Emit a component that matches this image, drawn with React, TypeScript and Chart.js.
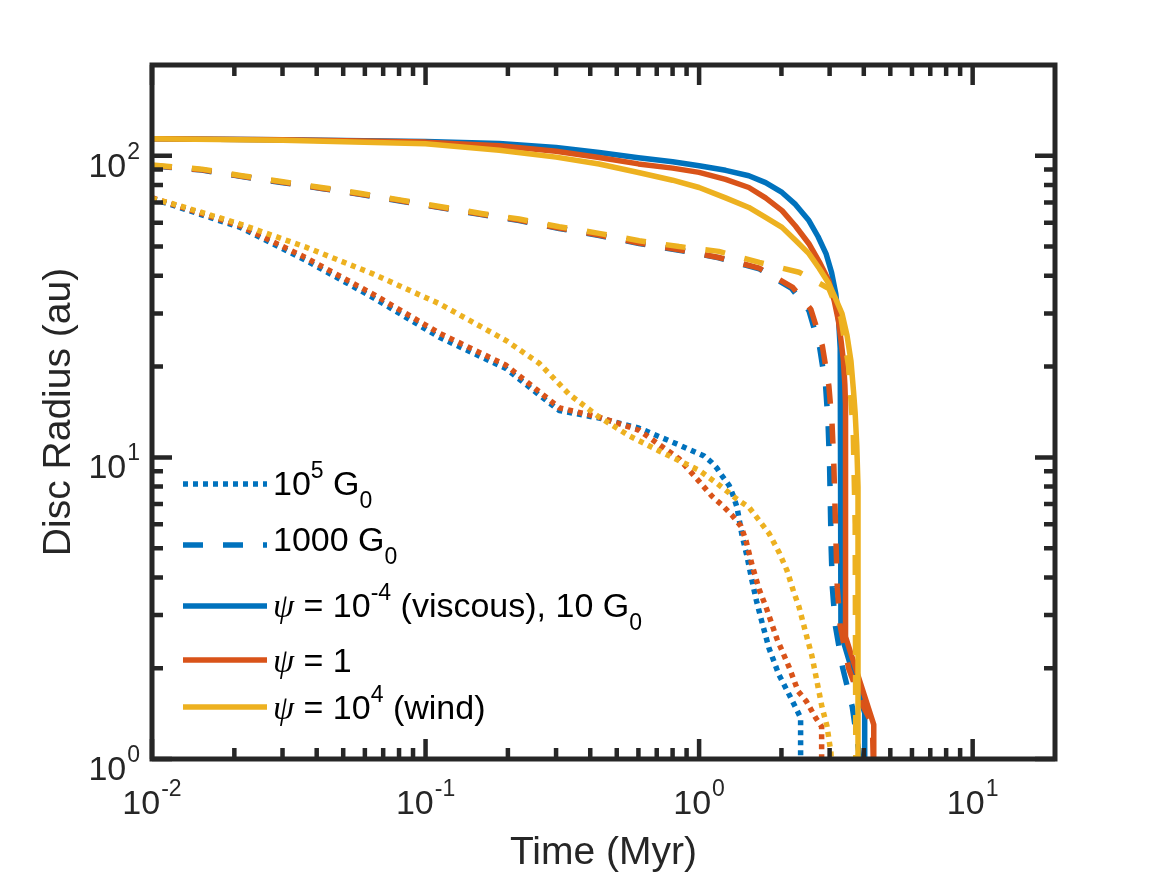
import { useEffect, useRef } from 'react';
import { Chart, registerables } from 'chart.js';

Chart.register(...registerables);

// Values: time in Myr, disc radius in au.
// Colour = psi (blue 1e-4 viscous, orange 1, yellow 1e4 wind), style = FUV field.

// solid: 10 G0
const viscous10T = [0.01, 0.03, 0.1, 0.186, 0.3, 0.431, 0.6, 0.8, 1.0, 1.25, 1.52, 1.75, 2.01, 2.25, 2.52, 2.72, 2.91, 3.05, 3.16, 3.24, 3.28, 3.3, 3.3, 4.03, 4.03];
const viscous10R = [114, 113, 111.5, 109.8, 106.5, 102.5, 98.5, 95.5, 92.7, 89.5, 85.9, 81.5, 75.6, 69.0, 61.0, 54.0, 47.4, 41.0, 34.9, 28.0, 23.0, 20.9, 2.61, 1.42, 1.0];
const mid10T = [0.01, 0.03, 0.1, 0.186, 0.3, 0.431, 0.6, 0.8, 1.0, 1.25, 1.52, 1.75, 2.01, 2.25, 2.52, 2.75, 2.98, 3.12, 3.23, 3.31, 3.37, 3.41, 3.43, 3.43, 4.35, 4.35];
const mid10R = [114, 113, 111, 107.9, 103.5, 98.7, 94.0, 91.0, 88.1, 83.5, 78.5, 72.5, 65.8, 58.5, 51.1, 44.5, 38.5, 33.0, 28.4, 24.0, 20.9, 17.5, 15.0, 2.54, 1.3, 1.0];
const wind10T = [0.01, 0.03, 0.1, 0.186, 0.3, 0.431, 0.6, 0.8, 1.0, 1.25, 1.52, 1.75, 2.01, 2.25, 2.52, 2.75, 2.98, 3.16, 3.33, 3.47, 3.59, 3.67, 3.72, 3.77, 3.81, 3.81];
const wind10R = [114, 112.5, 109.6, 104.4, 99.0, 93.9, 88.0, 83.0, 78.5, 72.5, 67.4, 62.5, 57.9, 52.5, 47.4, 42.3, 37.7, 33.5, 30.0, 25.5, 20.9, 16.5, 14.0, 11.0, 8.0, 1.0];

// dashed: 1000 G0
const viscous1000T = [0.01, 0.0152, 0.0213, 0.0297, 0.0416, 0.0582, 0.0815, 0.114, 0.16, 0.22, 0.308, 0.431, 0.604, 0.845, 1.18, 1.66, 2.18, 2.52, 2.76, 2.9, 2.96, 3.0, 3.02, 3.04, 3.07, 3.15, 3.35, 3.63, 3.87];
const viscous1000R = [92.6, 89.7, 85.3, 81.6, 77.9, 74.4, 70.7, 67.2, 63.8, 61.0, 57.4, 54.4, 51.2, 48.6, 45.9, 42.2, 36.3, 30.7, 23.1, 17.3, 13.1, 9.3, 6.8, 5.0, 3.7, 2.76, 2.0, 1.49, 1.0];
const mid1000T = [0.01, 0.0152, 0.0213, 0.0297, 0.0416, 0.0582, 0.0815, 0.114, 0.16, 0.22, 0.308, 0.431, 0.604, 0.845, 1.18, 1.66, 2.2, 2.56, 2.82, 2.98, 3.06, 3.11, 3.14, 3.17, 3.2, 3.28, 3.52, 3.9, 4.3, 4.33];
const mid1000R = [92.8, 89.9, 85.5, 81.8, 78.1, 74.6, 70.9, 67.4, 64.0, 61.2, 57.6, 54.6, 51.4, 48.8, 46.0, 42.4, 36.6, 31.0, 23.5, 17.3, 13.1, 9.3, 6.8, 5.0, 3.7, 2.76, 2.0, 1.55, 1.3, 1.0];
const wind1000T = [0.01, 0.0152, 0.0213, 0.0297, 0.0416, 0.0582, 0.0815, 0.114, 0.16, 0.22, 0.308, 0.431, 0.604, 0.845, 1.18, 1.66, 2.32, 2.98, 3.3, 3.52, 3.66, 3.72, 3.74];
const wind1000R = [93.2, 90.3, 85.9, 82.2, 78.5, 75.0, 71.3, 67.8, 64.4, 61.7, 58.2, 55.3, 52.3, 50.0, 48.2, 44.3, 41.1, 36.3, 29.0, 20.0, 12.0, 6.0, 1.0];

// dotted: 1e5 G0
const viscous1e5T = [0.01, 0.021, 0.0367, 0.0642, 0.1125, 0.197, 0.2606, 0.3083, 0.4315, 0.6034, 0.845, 1.043, 1.115, 1.163, 1.203, 1.287, 1.33, 1.376, 1.435, 1.496, 1.561, 1.62, 1.684, 1.801, 1.959, 2.095, 2.254, 2.35, 2.35];
const viscous1e5R = [72.2, 57.9, 44.9, 33.9, 25.0, 19.7, 16.1, 14.3, 13.5, 12.5, 11.0, 10.1, 9.6, 9.2, 8.78, 8.08, 7.5, 6.83, 5.52, 4.71, 3.9, 3.35, 2.92, 2.33, 1.9, 1.69, 1.48, 1.37, 1.0];
const mid1e5T = [0.01, 0.021, 0.0367, 0.0642, 0.1125, 0.197, 0.2606, 0.3083, 0.4315, 0.6034, 0.845, 1.0, 1.115, 1.223, 1.319, 1.423, 1.484, 1.52, 1.561, 1.61, 1.656, 1.756, 1.926, 2.131, 2.3, 2.47, 2.667, 2.805, 2.805];
const mid1e5R = [72.6, 58.6, 45.8, 34.8, 25.8, 20.2, 16.5, 14.6, 13.6, 12.3, 9.9, 8.33, 7.43, 6.9, 6.43, 5.91, 5.3, 4.85, 4.4, 4.0, 3.66, 3.19, 2.5, 2.02, 1.68, 1.55, 1.37, 1.28, 1.0];
const wind1e5T = [0.01, 0.012, 0.021, 0.0367, 0.0642, 0.1125, 0.197, 0.2606, 0.3348, 0.4315, 0.555, 0.7145, 1.0, 1.163, 1.365, 1.522, 1.656, 1.801, 1.959, 2.095, 2.222, 2.317, 2.457, 2.584, 2.696, 2.812, 2.932, 3.033, 3.04];
const wind1e5R = [72.2, 69.2, 59.4, 49.7, 40.6, 32.3, 24.4, 20.5, 16.2, 13.6, 11.8, 10.5, 9.06, 8.2, 7.31, 6.83, 6.19, 5.6, 4.85, 4.22, 3.56, 3.2, 2.61, 2.2, 1.81, 1.49, 1.29, 1.05, 1.0];

// axes
const xMajorTicks = [0.01, 0.1, 1, 10];
const xTickExponents = ['-2', '-1', '0', '1'];
const xMinorTicks = [0.02, 0.03, 0.04, 0.05, 0.06, 0.07, 0.08, 0.09, 0.2, 0.3, 0.4, 0.5, 0.6, 0.7, 0.8, 0.9, 2, 3, 4, 5, 6, 7, 8, 9];
const yMajorTicks = [1, 10, 100];
const yTickExponents = ['0', '1', '2'];
const yMinorTicks = [2, 3, 4, 5, 6, 7, 8, 9, 20, 30, 40, 50, 60, 70, 80, 90];

// legend text runs: n = normal, sup, sub, psi
type Run = [string, 'n' | 'sup' | 'sub' | 'psi'];
const legendRuns: Run[][] = [
  [['10', 'n'], ['5', 'sup'], [' G', 'n'], ['0', 'sub']],
  [['1000 G', 'n'], ['0', 'sub']],
  [['\u03C8', 'psi'], [' = 10', 'n'], ['-4', 'sup'], [' (viscous), 10 G', 'n'], ['0', 'sub']],
  [['\u03C8', 'psi'], [' = 1', 'n']],
  [['\u03C8', 'psi'], [' = 10', 'n'], ['4', 'sup'], [' (wind)', 'n']],
];

const BLUE = '#0072BD';
const ORANGE = '#D95319';
const YELLOW = '#EDB120';
const AXIS_COLOR = '#262626';
const SANS = "'Liberation Sans', Arial, Helvetica, sans-serif";
const SERIF = "'Liberation Serif', 'DejaVu Serif', serif";
const DOTTED = [5, 5];
const DASHED = [20, 20];
const LINE_WIDTH = 5.5;

const legendStyles = [
  { color: BLUE, dash: DOTTED },
  { color: BLUE, dash: DASHED },
  { color: BLUE, dash: [] as number[] },
  { color: ORANGE, dash: [] as number[] },
  { color: YELLOW, dash: [] as number[] },
];
const legendLineY = [484, 545, 606, 660, 707];
const legendTextY = [495, 551, 617, 672, 719];

const toPoints = (t: number[], r: number[]) => t.map((v, i) => ({ x: v, y: r[i] }));

const series = (label: string, t: number[], r: number[], color: string, dash: number[]) => ({
  label,
  data: toPoints(t, r),
  borderColor: color,
  backgroundColor: color,
  borderWidth: LINE_WIDTH,
  borderDash: dash,
  borderJoinStyle: 'round' as const,
  pointRadius: 0,
  tension: 0,
  fill: false,
});

function drawPower(ctx: CanvasRenderingContext2D, exp: string, x: number, y: number, align: 'center' | 'right') {
  ctx.font = `34px ${SANS}`;
  const bw = ctx.measureText('10').width;
  ctx.font = `23px ${SANS}`;
  const ew = ctx.measureText(exp).width;
  const total = bw + ew + 1;
  const left = align === 'center' ? x - total / 2 : x - total;
  ctx.textAlign = 'left';
  ctx.font = `34px ${SANS}`;
  ctx.fillText('10', left, y);
  ctx.font = `23px ${SANS}`;
  ctx.fillText(exp, left + bw + 1, y - 18);
}

const axesPlugin = {
  id: 'matlabAxes',
  afterDraw(chart: Chart) {
    const { ctx, chartArea: a } = chart;
    const xs = chart.scales.x;
    const ys = chart.scales.y;
    ctx.save();

    // inward ticks on all four sides
    ctx.strokeStyle = AXIS_COLOR;
    ctx.lineWidth = 4.5;
    ctx.lineCap = 'butt';
    ctx.beginPath();
    const xTick = (v: number, len: number) => {
      const px = xs.getPixelForValue(v);
      ctx.moveTo(px, a.bottom);
      ctx.lineTo(px, a.bottom - len);
      ctx.moveTo(px, a.top);
      ctx.lineTo(px, a.top + len);
    };
    const yTick = (v: number, len: number) => {
      const py = ys.getPixelForValue(v);
      ctx.moveTo(a.left, py);
      ctx.lineTo(a.left + len, py);
      ctx.moveTo(a.right, py);
      ctx.lineTo(a.right - len, py);
    };
    xMajorTicks.forEach((v) => xTick(v, 20));
    xMinorTicks.forEach((v) => xTick(v, 11));
    yMajorTicks.forEach((v) => yTick(v, 20));
    yMinorTicks.forEach((v) => yTick(v, 11));
    ctx.stroke();

    ctx.lineJoin = 'miter';
    ctx.lineWidth = 5;
    ctx.strokeRect(a.left, a.top, a.right - a.left, a.bottom - a.top);

    // tick labels
    ctx.fillStyle = AXIS_COLOR;
    ctx.textBaseline = 'alphabetic';
    xMajorTicks.forEach((v, i) => drawPower(ctx, xTickExponents[i], xs.getPixelForValue(v), a.bottom + 55, 'center'));
    yMajorTicks.forEach((v, i) => drawPower(ctx, yTickExponents[i], a.left - 12, ys.getPixelForValue(v) + 21, 'right'));

    // axis titles
    ctx.font = `39px ${SANS}`;
    ctx.textAlign = 'center';
    ctx.fillText('Time (Myr)', (a.left + a.right) / 2, a.bottom + 105);
    ctx.save();
    ctx.translate(70, (a.top + a.bottom) / 2);
    ctx.rotate(-Math.PI / 2);
    ctx.fillText('Disc Radius (au)', 0, 0);
    ctx.restore();

    // legend
    legendRuns.forEach((runs, i) => {
      const st = legendStyles[i];
      ctx.strokeStyle = st.color;
      ctx.lineWidth = LINE_WIDTH;
      ctx.setLineDash(st.dash);
      ctx.beginPath();
      ctx.moveTo(183, legendLineY[i]);
      ctx.lineTo(267, legendLineY[i]);
      ctx.stroke();
      ctx.setLineDash([]);

      ctx.fillStyle = '#000000';
      ctx.textAlign = 'left';
      let cx = 273;
      for (const [txt, kind] of runs) {
        let dy = 0;
        if (kind === 'sup') {
          ctx.font = `23px ${SANS}`;
          dy = -17;
        } else if (kind === 'sub') {
          ctx.font = `23px ${SANS}`;
          dy = 13;
        } else if (kind === 'psi') {
          ctx.font = `italic 34px ${SERIF}`;
        } else {
          ctx.font = `34px ${SANS}`;
        }
        ctx.fillText(txt, cx, legendTextY[i] + dy);
        cx += ctx.measureText(txt).width;
      }
    });

    ctx.restore();
  },
};

const DiscRadiusChart = () => {
  const canvasRef = useRef<HTMLCanvasElement>(null);
  const chartRef = useRef<Chart | null>(null);

  useEffect(() => {
    if (!canvasRef.current) return;
    if (chartRef.current) chartRef.current.destroy();

    // yellow first so it is painted on top, then orange, then blue
    const datasets = [
      series('psi=1e4, 10 G0', wind10T, wind10R, YELLOW, []),
      series('psi=1e4, 1000 G0', wind1000T, wind1000R, YELLOW, DASHED),
      series('psi=1e4, 1e5 G0', wind1e5T, wind1e5R, YELLOW, DOTTED),
      series('psi=1, 10 G0', mid10T, mid10R, ORANGE, []),
      series('psi=1, 1000 G0', mid1000T, mid1000R, ORANGE, DASHED),
      series('psi=1, 1e5 G0', mid1e5T, mid1e5R, ORANGE, DOTTED),
      series('psi=1e-4, 10 G0', viscous10T, viscous10R, BLUE, []),
      series('psi=1e-4, 1000 G0', viscous1000T, viscous1000R, BLUE, DASHED),
      series('psi=1e-4, 1e5 G0', viscous1e5T, viscous1e5R, BLUE, DOTTED),
    ];

    chartRef.current = new Chart(canvasRef.current, {
      type: 'line',
      data: { datasets },
      options: {
        animation: false,
        responsive: false,
        devicePixelRatio: 1,
        layout: { padding: { left: 152, right: 112, top: 65, bottom: 116 } },
        plugins: { legend: { display: false }, tooltip: { enabled: false } },
        scales: {
          x: { type: 'logarithmic', min: 0.01, max: 20, display: false },
          y: { type: 'logarithmic', min: 1, max: 200, display: false },
        },
      },
      plugins: [axesPlugin],
    });

    return () => {
      if (chartRef.current) {
        chartRef.current.destroy();
        chartRef.current = null;
      }
    };
  }, []);

  return (
    <div style={{ position: 'fixed', left: 0, top: 0, width: 1167, height: 875, background: '#ffffff' }}>
      <canvas ref={canvasRef} width={1167} height={875} style={{ display: 'block' }} />
    </div>
  );
};

export default DiscRadiusChart;
